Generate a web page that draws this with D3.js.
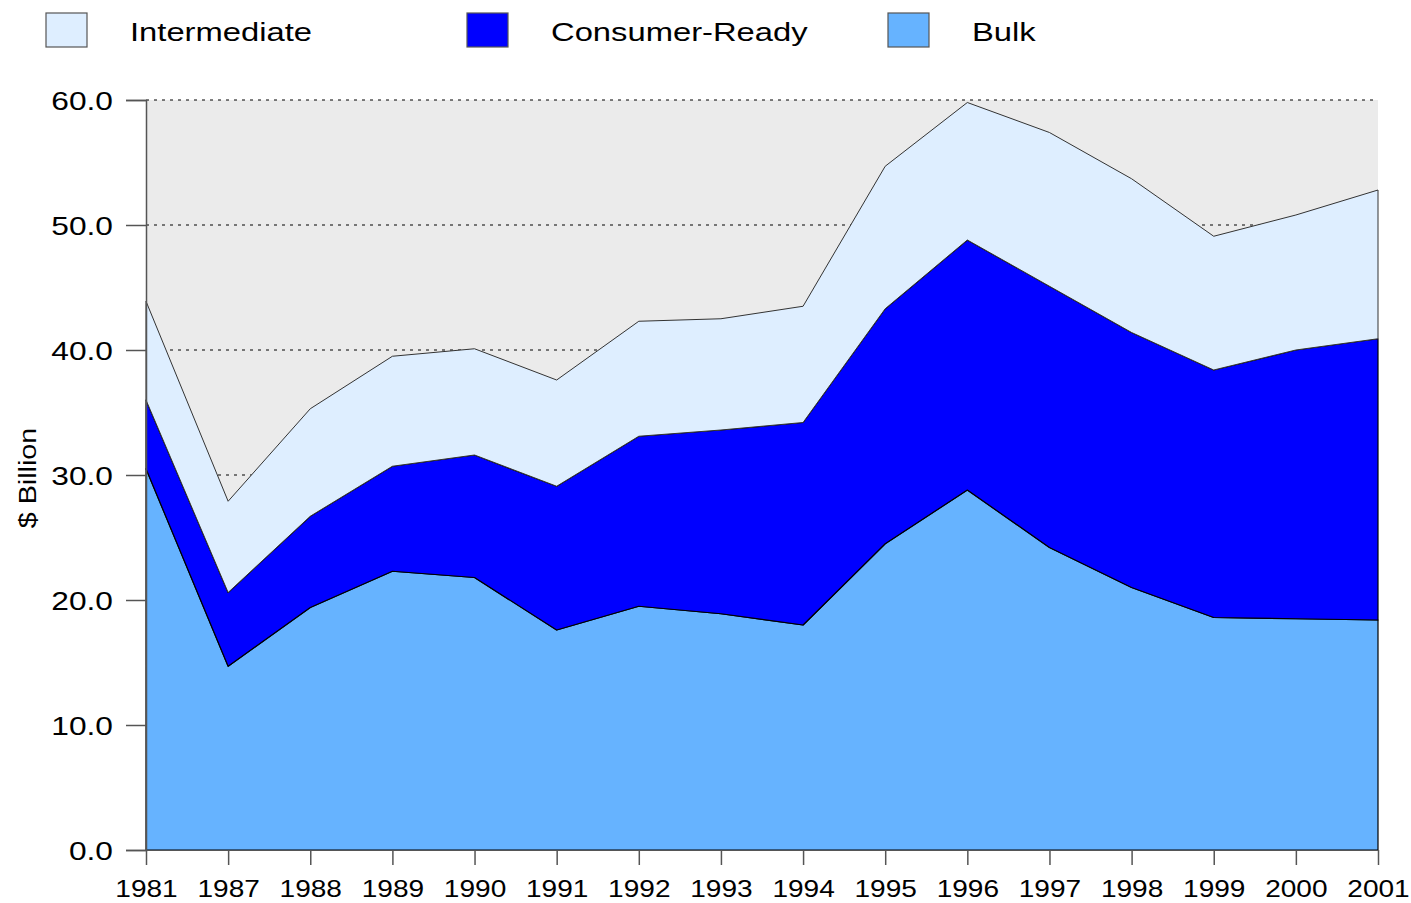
<!DOCTYPE html>
<html>
<head>
<meta charset="utf-8">
<script src="https://cdn.jsdelivr.net/npm/d3@7"></script>
<style>
  body { margin: 0; background: #fff; }
  text { font-family: "Liberation Sans", Arial, sans-serif; fill: #000; }
</style>
</head>
<body>
<div id="chart"></div>
<script>
const width = 1411,
  height = 903;

const margin = { top: 100, right: 33, bottom: 53, left: 146 };
const stretch = 1.22; // the labels in the picture are drawn wide

const years = ["1981", "1987", "1988", "1989", "1990", "1991", "1992", "1993",
  "1994", "1995", "1996", "1997", "1998", "1999", "2000", "2001"];

// $ billion
const bulk = [30.5, 14.7, 19.4, 22.3, 21.8, 17.6, 19.5, 18.9, 18.0, 24.5, 28.8, 24.2, 21.0, 18.6, 18.5, 18.4];
const consumerReady = [5.5, 5.9, 7.3, 8.4, 9.8, 11.5, 13.6, 14.7, 16.2, 18.8, 20.0, 20.9, 20.4, 19.8, 21.5, 22.5];
const intermediate = [7.9, 7.3, 8.6, 8.8, 8.5, 8.5, 9.2, 8.9, 9.3, 11.4, 11.0, 12.3, 12.3, 10.7, 10.8, 11.9];

const yTicks = [0, 10, 20, 30, 40, 50, 60];

const seriesKeys = ["Bulk", "Consumer-Ready", "Intermediate"];
const colors = { "Bulk": "#66b3ff", "Consumer-Ready": "#0000ff", "Intermediate": "#deeeff" };
const legendOrder = ["Intermediate", "Consumer-Ready", "Bulk"];

const rows = years.map((y, i) => ({
  year: y,
  "Bulk": bulk[i],
  "Consumer-Ready": consumerReady[i],
  "Intermediate": intermediate[i]
}));

const stacked = d3.stack().keys(seriesKeys)(rows);

const x = d3.scalePoint()
  .domain(years)
  .range([margin.left, width - margin.right]);

const y = d3.scaleLinear()
  .domain([0, 60])
  .range([height - margin.bottom, margin.top]);

const svg = d3.select("#chart").append("svg")
  .attr("width", width)
  .attr("height", height);

// plot background
svg.append("rect")
  .attr("x", x.range()[0])
  .attr("y", y(60))
  .attr("width", x.range()[1] - x.range()[0])
  .attr("height", y(0) - y(60))
  .attr("fill", "#ebebeb");

// dotted gridlines
svg.append("g")
  .selectAll("line")
  .data(yTicks.filter(d => d > 0))
  .join("line")
  .attr("x1", x.range()[0])
  .attr("x2", x.range()[1])
  .attr("y1", d => y(d))
  .attr("y2", d => y(d))
  .attr("stroke", "#000")
  .attr("stroke-width", 1)
  .attr("stroke-dasharray", "3,5");

const area = d3.area()
  .x(d => x(d.data.year))
  .y0(d => y(d[0]))
  .y1(d => y(d[1]));

svg.append("g")
  .selectAll("path")
  .data(stacked)
  .join("path")
  .attr("d", area)
  .attr("fill", d => colors[d.key])
  .attr("stroke", d => d.key === "Intermediate" ? "#333" : "#000")
  .attr("stroke-width", d => d.key === "Intermediate" ? 1 : 1.2)
  .attr("stroke-linejoin", "round");

// y axis
const yAxis = svg.append("g")
  .attr("transform", `translate(${margin.left},0)`)
  .call(d3.axisLeft(y).tickValues(yTicks).tickFormat(d3.format(".1f")).tickSize(20).tickPadding(13));
yAxis.select(".domain").attr("stroke", "#555").attr("stroke-width", 1.5);
yAxis.selectAll(".tick line").attr("stroke", "#555").attr("stroke-width", 1.5);
yAxis.selectAll(".tick text")
  .attr("font-size", 26)
  .attr("x", -33 / stretch)
  .attr("dy", "0.36em")
  .attr("transform", `scale(${stretch},1)`)
  .attr("font-family", "Liberation Sans, Arial, sans-serif")
  .attr("fill", "#000");

// x axis
const xAxis = svg.append("g")
  .attr("transform", `translate(0,${height - margin.bottom})`)
  .call(d3.axisBottom(x).tickSize(15).tickPadding(12).tickSizeOuter(0));
xAxis.select(".domain").attr("stroke", "#555").attr("stroke-width", 1);
xAxis.selectAll(".tick line").attr("stroke", "#555").attr("stroke-width", 1.5);
xAxis.selectAll(".tick text")
  .attr("font-size", 23)
  .attr("y", 47)
  .attr("dy", null)
  .attr("transform", `scale(${stretch},1)`)
  .attr("font-family", "Liberation Sans, Arial, sans-serif")
  .attr("fill", "#000");

// y axis title
svg.append("text")
  .attr("transform", `translate(36,${(y(0) + y(60)) / 2 + 3}) rotate(-90) scale(1.25,1)`)
  .attr("text-anchor", "middle")
  .attr("font-size", 23)
  .text("$ Billion");

// legend
const legend = svg.append("g")
  .selectAll("g")
  .data(legendOrder)
  .join("g")
  .attr("transform", (d, i) => `translate(${46 + i * 421},13)`);

legend.append("rect")
  .attr("width", 41)
  .attr("height", 34)
  .attr("fill", d => colors[d])
  .attr("stroke", "#555")
  .attr("stroke-width", 1.2);

legend.append("text")
  .attr("transform", "translate(84,28) scale(1.26,1)")
  .attr("font-size", 26)
  .text(d => d);
</script>
</body>
</html>
